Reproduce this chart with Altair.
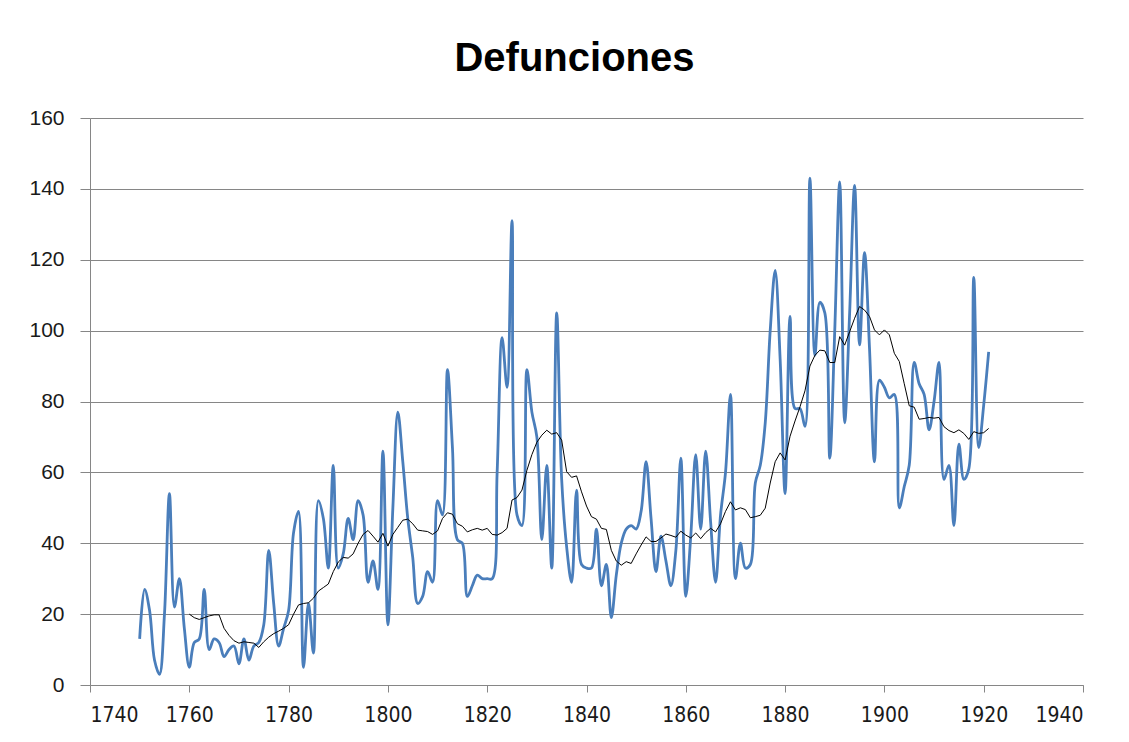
import altair as alt
import pandas as pd

# Yearly deaths (blue smoothed line), starting 1750
DEATHS_START = 1750
deaths = [
    13, 27, 21, 7, 3, 20, 54, 22, 30, 16,      # 1750-1759
    5, 12, 13, 27, 10, 13, 12, 8, 10, 11,      # 1760-1769
    6, 13, 7, 11, 12, 17, 38, 23, 11, 16,      # 1770-1779
    21, 43, 49, 5, 23, 9, 52, 47, 33, 62,      # 1780-1789
    33, 37, 47, 41, 52, 48, 29, 35, 27, 66,    # 1790-1799
    17, 50, 77, 63, 47, 36, 23, 25, 32, 29,    # 1800-1809
    52, 48, 89, 67, 41, 40, 25, 28, 31, 30,    # 1810-1819
    30, 30, 60, 98, 84, 131, 48, 45, 89, 77,   # 1820-1829
    70, 41, 62, 33, 105, 58, 39, 29, 55, 34,   # 1830-1839
    33, 33, 44, 28, 34, 19, 31, 40, 44, 45,    # 1840-1849
    44, 49, 63, 47, 32, 42, 35, 28, 38, 64,    # 1850-1859
    25, 42, 65, 44, 66, 46, 29, 48, 60, 82,    # 1860-1869
    30, 40, 33, 34, 57, 62, 74, 100, 117, 92,  # 1870-1879
    54, 104, 78, 78, 73, 143, 93, 108, 105, 64,  # 1880-1889
    100, 142, 74, 105, 141, 96, 122, 95, 63, 86,  # 1890-1899
    84, 81, 82, 50, 56, 62, 91, 85, 82, 72,    # 1900-1909
    80, 91, 58, 62, 45, 68, 58, 61, 115, 67,   # 1910-1919
    79, 94,                                    # 1920-1921
]

# Moving average (thin black line), starting 1760
MA_START = 1760
moving_avg = [
    20, 19, 18.5, 19, 19.5, 19.8, 19.8, 16, 14, 12.5,          # 1760-1769
    11.8, 12.2, 12, 11.8, 10.6, 12.2, 13.5, 14.5, 15.2, 16,    # 1770-1779
    17, 20, 22.6, 23, 23.2, 24.5, 26.5, 27.5, 28.5, 32,        # 1780-1789
    34.7, 36, 35.8, 37, 40, 42.5, 43.6, 42, 40.3, 42.8,        # 1790-1799
    39.2, 42.5, 44.5, 46.5, 46.8, 45.5, 43.7, 43.5, 43.3, 42.5,  # 1800-1809
    43.5, 47, 48.6, 48.2, 45.5, 44.8, 43.2, 43.8, 44.2, 43.7,  # 1810-1819
    44.2, 42.5, 42.3, 43, 44.2, 52.2, 52.9, 55, 60.6, 65,      # 1820-1829
    68.5, 70.5, 71.9, 70.8, 71.2, 69.1, 60.2, 58.6, 59, 54.5,  # 1830-1839
    50.5, 47.5, 46.8, 44.2, 43.9, 38, 35, 33.8, 34.8, 34.3,    # 1840-1849
    37, 39.5, 41.8, 40.5, 40.5, 41.5, 42.6, 42.2, 41.7, 43.4,  # 1850-1859
    42.3, 41.5, 42.9, 41.3, 43, 44.2, 43.2, 45.5, 49, 51.7,    # 1860-1869
    49.4, 50, 49.5, 47.2, 47.5, 47.9, 49.9, 57, 63, 65.5,      # 1870-1879
    63.5, 70.2, 74.5, 78.5, 83, 90, 93, 94.5, 94.3, 91,        # 1880-1889
    91, 98.3, 95.9, 99.7, 103.5, 106.8, 105.8, 104, 100.2, 98.8,  # 1890-1899
    100.2, 98.8, 93.6, 91.3, 85, 78.8, 78.4, 75, 75.2, 75.5,   # 1900-1909
    75.3, 75.5, 72.9, 71.8, 71.2, 72, 71, 69.3, 71.5, 71,      # 1910-1919
    71.2, 72.4,                                                # 1920-1921
]

x_ticks = [1740, 1760, 1780, 1800, 1820, 1840, 1860, 1880, 1900, 1920, 1940]
y_ticks = [0, 20, 40, 60, 80, 100, 120, 140, 160]

df_deaths = pd.DataFrame({
    "year": list(range(DEATHS_START, DEATHS_START + len(deaths))),
    "value": deaths,
})
df_ma = pd.DataFrame({
    "year": list(range(MA_START, MA_START + len(moving_avg))),
    "value": moving_avg,
})

GRAY = "#868686"

x_enc = alt.X(
    "year:Q",
    scale=alt.Scale(domain=[1740, 1940], nice=False, zero=False),
    axis=alt.Axis(
        values=x_ticks, format="d", grid=False, title=None,
        labelFont="Liberation Sans Narrow, DejaVu Sans Condensed, sans-serif",
        labelFontSize=21, tickSize=7, labelPadding=12,
    ),
)
y_enc = alt.Y(
    "value:Q",
    scale=alt.Scale(domain=[0, 160], nice=False),
    axis=alt.Axis(
        values=y_ticks, grid=True, title=None,
        labelFont="Liberation Sans", labelFontSize=21,
        tickSize=10, labelPadding=16,
    ),
)

blue = alt.Chart(df_deaths).mark_line(
    color="#4A7EBB", strokeWidth=2.8, interpolate="catmull-rom"
).encode(x=x_enc, y=y_enc)

black = alt.Chart(df_ma).mark_line(
    color="#000000", strokeWidth=1
).encode(x=x_enc, y=y_enc)

chart = alt.layer(blue, black).properties(
    width=993,
    height=567,
    title=alt.TitleParams(
        "Defunciones", font="Liberation Sans", fontSize=40, fontWeight="bold",
        color="#000000", anchor="middle", dx=-12, offset=28,
    ),
    padding={"left": 82, "top": 110, "right": 30, "bottom": 48},
    autosize=alt.AutoSizeParams(type="none"),
    background="white",
).configure_view(
    stroke=None
).configure_axis(
    domainColor=GRAY, tickColor=GRAY, gridColor=GRAY,
    gridWidth=1, domainWidth=1, tickWidth=1,
    labelColor="#1a1a1a",
)

chart.save("out.html", embed_options={"renderer": "svg", "actions": False})
